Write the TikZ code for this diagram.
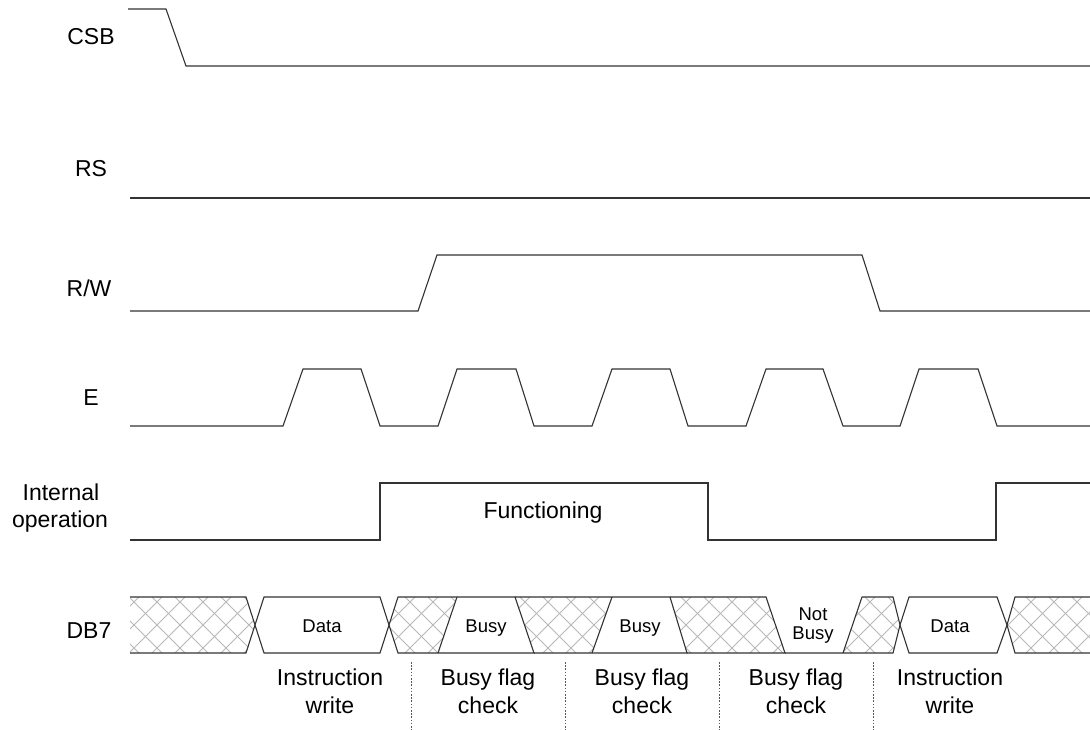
\documentclass[tikz,border=0pt]{standalone}
\usepackage{fontspec}
\setmainfont{Liberation Sans}
\newcommand\bigf{\fontsize{23}{28}\selectfont}
\newcommand\smf{\fontsize{18.5}{21}\selectfont}
\begin{document}
\begin{tikzpicture}[x=1pt,y=-1pt,
  sig/.style={draw=black!80,line width=1.1pt,line join=miter},
  hatchline/.style={draw=black!28,line width=0.9pt},
  divider/.style={draw=black!65,line width=0.8pt,dash pattern=on 1.6pt off 1.6pt},
  lbl/.style={anchor=base,inner sep=0pt,font=\bigf},
  blbl/.style={anchor=base,inner sep=0pt,font=\smf}]
\useasboundingbox[fill=white] (0,0) rectangle (1090,730);

% signal names
\node[lbl] (csb) at (91,45) {CSB};
\node[lbl] (rs) at (91,177) {RS};
\node[lbl] (rw) at (89,297) {R/W};
\node[lbl] (e) at (91,405) {E};
\node[lbl] (int1) at (61,500) {Internal};
\node[lbl] (int2) at (60,527) {operation};
\node[lbl] (db7) at (89,638) {DB7};

% CSB
\draw[sig] (128,9) -- (166,9) -- (186,66) -- (1090,66);
% RS
\draw[sig] (130,198) -- (1090,198);
% R/W
\draw[sig] (130,311) -- (418,311) -- (437,255) -- (862,255) -- (880,311) -- (1090,311);
% E
\draw[sig] (130,426)
  -- (283,426) -- (303,369) -- (361,369) -- (380,426)
  -- (438,426) -- (457,369) -- (516,369) -- (534,426)
  -- (592,426) -- (612,369) -- (670,369) -- (688,426)
  -- (746,426) -- (766,369) -- (823,369) -- (843,426)
  -- (900,426) -- (919,369) -- (978,369) -- (997,426)
  -- (1090,426);
% Internal operation
\draw[sig] (130,540) -- (380,540) -- (380,483) -- (708,483) -- (708,540) -- (996,540) -- (996,483) -- (1090,483);
\node[lbl] (func) at (543,518) {Functioning};

% DB7 hatching
\newcommand\hatchfill[1]{%
  \begin{scope}
    \clip #1;
    \foreach \a in {60,83,...,1100} {
      \draw[hatchline] (\a,597) -- ++(56,56);
      \draw[hatchline] (\a,653) -- ++(56,-56);
    }
  \end{scope}}
\hatchfill{(130,597) -- (246,597) -- (255,625) -- (246,653) -- (130,653) -- cycle}
\hatchfill{(389,625) -- (398,597) -- (457,597) -- (438,653) -- (398,653) -- cycle}
\hatchfill{(515,597) -- (612,597) -- (592,653) -- (534,653) -- cycle}
\hatchfill{(670,597) -- (766,597) -- (785,653) -- (687,653) -- cycle}
\hatchfill{(862,597) -- (893,597) -- (900,625) -- (893,653) -- (843,653) -- cycle}
\hatchfill{(1007,625) -- (1015,597) -- (1090,597) -- (1090,653) -- (1015,653) -- cycle}

% DB7 outlines
\draw[sig] (130,597) -- (246,597) -- (255,625) -- (246,653) -- (130,653);
\draw[sig] (255,625) -- (264,597) -- (380,597) -- (389,625) -- (380,653) -- (264,653) -- cycle;
\draw[sig] (389,625) -- (398,597) -- (515,597) -- (534,653) -- (398,653) -- cycle;
\draw[sig] (457,597) -- (438,653);
\draw[sig] (515,597) -- (670,597) -- (687,653) -- (534,653);
\draw[sig] (612,597) -- (592,653);
\draw[sig] (670,597) -- (766,597) -- (785,653) -- (687,653);
\draw[sig] (785,653) -- (843,653) -- (862,597) -- (893,597) -- (900,625) -- (893,653) -- (843,653);
\draw[sig] (900,625) -- (909,597) -- (997,597) -- (1007,625) -- (997,653) -- (909,653) -- cycle;
\draw[sig] (1090,597) -- (1015,597) -- (1007,625) -- (1015,653) -- (1090,653);

% DB7 texts
\node[blbl] (d1) at (322,632) {Data};
\node[blbl] (b1) at (486,632) {Busy};
\node[blbl] (b2) at (640,632) {Busy};
\node[blbl] (nb1) at (813,620) {Not};
\node[blbl] (nb2) at (813,639) {Busy};
\node[blbl] (d2) at (950,632) {Data};

% dividers
\coordinate (v1t) at (411,662); \coordinate (v1b) at (411,730);
\coordinate (v2t) at (565,662); \coordinate (v2b) at (565,730);
\coordinate (v3t) at (719,662); \coordinate (v3b) at (719,730);
\coordinate (v4t) at (873,662); \coordinate (v4b) at (873,730);
\draw[divider] (v1t) -- (v1b);
\draw[divider] (v2t) -- (v2b);
\draw[divider] (v3t) -- (v3b);
\draw[divider] (v4t) -- (v4b);

% phase labels
\node[lbl] (p1a) at (330,685) {Instruction};
\node[lbl] (p1b) at (330,713) {write};
\node[lbl] (p2a) at (488,685) {Busy flag};
\node[lbl] (p2b) at (488,713) {check};
\node[lbl] (p3a) at (642,685) {Busy flag};
\node[lbl] (p3b) at (642,713) {check};
\node[lbl] (p4a) at (796,685) {Busy flag};
\node[lbl] (p4b) at (796,713) {check};
\node[lbl] (p5a) at (950,685) {Instruction};
\node[lbl] (p5b) at (950,713) {write};
\end{tikzpicture}
\end{document}
